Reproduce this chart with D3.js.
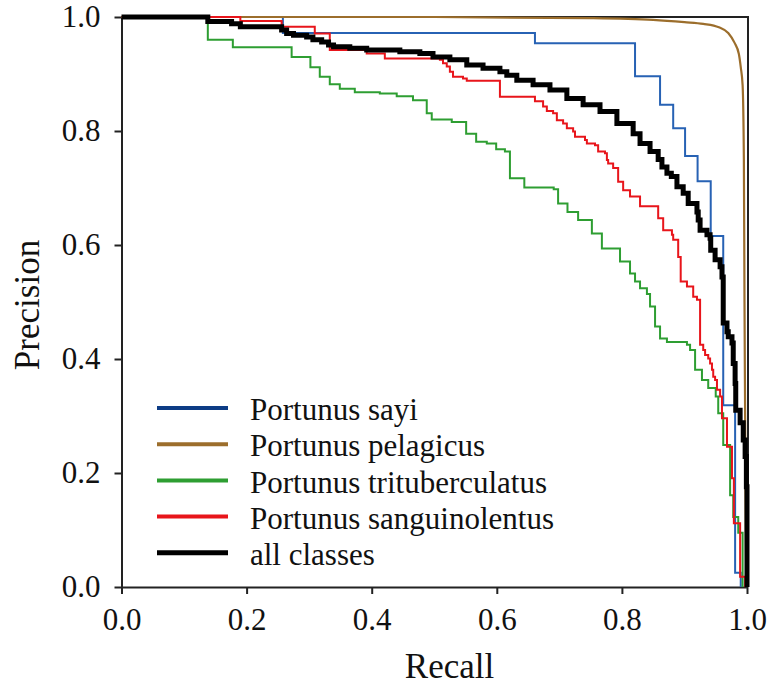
<!DOCTYPE html>
<html>
<head>
<meta charset="utf-8">
<script src="https://cdn.jsdelivr.net/npm/d3@7"></script>
<style>
  html, body { margin: 0; padding: 0; background: #fff; }
  svg { display: block; }
</style>
</head>
<body>
<svg id="chart" width="773" height="686"></svg>
<script>
// Precision–recall curves, [recall, precision] pairs.
const seriesNames = ["Portunus sayi", "Portunus pelagicus", "Portunus trituberculatus", "Portunus sanguinolentus", "all classes"];
const seriesColors = ["#2762b4", "#9c6e2c", "#2e9e32", "#e8151b", "#000000"];
const legendColors = ["#0d3c85", "#9c6e2c", "#2e9e32", "#e8151b", "#000000"];

const sayi = [
  [0, 1], [0.258, 0.972], [0.661, 0.954], [0.821, 0.896], [0.861, 0.846], [0.882, 0.805],
  [0.901, 0.756], [0.921, 0.712], [0.942, 0.616], [0.962, 0.319], [0.981, 0.025], [0.990, 0.0]
];

const pelagicus = [
  [0, 1], [0.5, 1], [0.75, 0.998], [0.85, 0.995], [0.9, 0.991], [0.93, 0.988], [0.955, 0.982],
  [0.97, 0.972], [0.98, 0.955], [0.987, 0.935], [0.99, 0.912], [0.993, 0.88], [0.995, 0.75],
  [0.996, 0.5], [0.997, 0.3], [0.998, 0.1], [0.999, 0.0]
];

const trituberculatus = [
  [0, 1], [0.138, 0.96], [0.178, 0.947], [0.272, 0.93], [0.302, 0.912], [0.317, 0.895],
  [0.333, 0.882], [0.349, 0.874], [0.373, 0.868], [0.413, 0.866], [0.44, 0.861], [0.466, 0.854],
  [0.488, 0.831], [0.496, 0.820], [0.528, 0.816], [0.551, 0.795], [0.567, 0.781], [0.584, 0.778],
  [0.599, 0.768], [0.613, 0.764], [0.621, 0.717], [0.644, 0.701], [0.691, 0.698], [0.698, 0.673],
  [0.713, 0.658], [0.730, 0.644], [0.752, 0.620], [0.768, 0.594], [0.797, 0.571], [0.813, 0.550],
  [0.821, 0.536], [0.829, 0.524], [0.840, 0.514], [0.845, 0.492], [0.853, 0.457], [0.861, 0.436],
  [0.872, 0.430], [0.904, 0.425], [0.909, 0.416], [0.917, 0.381], [0.928, 0.363], [0.938, 0.349],
  [0.950, 0.334], [0.954, 0.305], [0.962, 0.249], [0.973, 0.161], [0.978, 0.123], [0.986, 0.095],
  [0.993, 0.0]
];

const sanguinolentus = [
  [0, 1], [0.19, 0.993], [0.256, 0.983], [0.309, 0.971], [0.333, 0.942], [0.392, 0.936],
  [0.421, 0.927], [0.509, 0.925], [0.514, 0.919], [0.520, 0.913], [0.525, 0.904], [0.530, 0.895],
  [0.546, 0.892], [0.552, 0.888], [0.605, 0.860], [0.661, 0.852], [0.674, 0.843], [0.680, 0.835],
  [0.690, 0.831], [0.696, 0.819], [0.706, 0.813], [0.712, 0.805], [0.722, 0.799], [0.725, 0.790],
  [0.741, 0.784], [0.744, 0.778], [0.757, 0.775], [0.762, 0.764], [0.773, 0.761], [0.776, 0.749],
  [0.778, 0.743], [0.786, 0.735], [0.794, 0.711], [0.802, 0.696], [0.813, 0.685], [0.829, 0.668],
  [0.858, 0.647], [0.866, 0.626], [0.880, 0.618], [0.882, 0.609], [0.890, 0.579], [0.894, 0.536],
  [0.904, 0.527], [0.914, 0.509], [0.920, 0.504], [0.925, 0.425], [0.930, 0.416], [0.933, 0.407],
  [0.938, 0.401], [0.941, 0.392], [0.944, 0.381], [0.946, 0.369], [0.949, 0.363], [0.952, 0.346],
  [0.957, 0.334], [0.960, 0.296], [0.968, 0.246], [0.976, 0.191], [0.979, 0.112], [0.989, 0.018],
  [0.997, 0.0]
];

const allClasses = [
  [0, 1], [0.138, 0.992], [0.176, 0.988], [0.19, 0.983], [0.256, 0.977], [0.264, 0.971],
  [0.275, 0.968], [0.296, 0.965], [0.306, 0.960], [0.320, 0.956], [0.331, 0.951], [0.339, 0.948],
  [0.365, 0.945], [0.392, 0.942], [0.445, 0.939], [0.477, 0.936], [0.498, 0.930], [0.525, 0.925],
  [0.552, 0.916], [0.578, 0.910], [0.605, 0.904], [0.616, 0.898], [0.632, 0.889], [0.658, 0.881],
  [0.685, 0.872], [0.712, 0.857], [0.738, 0.846], [0.765, 0.834], [0.792, 0.813], [0.818, 0.795],
  [0.829, 0.778], [0.845, 0.764], [0.858, 0.750], [0.864, 0.737], [0.872, 0.726], [0.879, 0.720],
  [0.888, 0.702], [0.898, 0.691], [0.906, 0.673], [0.920, 0.658], [0.922, 0.644], [0.925, 0.626],
  [0.936, 0.618], [0.941, 0.612], [0.942, 0.591], [0.949, 0.574], [0.957, 0.562], [0.960, 0.544],
  [0.962, 0.463], [0.968, 0.448], [0.970, 0.439], [0.976, 0.428], [0.978, 0.392], [0.981, 0.357],
  [0.982, 0.310], [0.989, 0.288], [0.994, 0.258], [0.997, 0.229], [0.999, 0.176], [1.0, 0.0]
];

const seriesData = [sayi, pelagicus, trituberculatus, sanguinolentus, allClasses];
const seriesSteps = [true, false, true, true, true];
const seriesWidths = [2, 2.2, 2, 2, 5];
const xTicks = [0, 0.2, 0.4, 0.6, 0.8, 1.0];
const yTicks = [0, 0.2, 0.4, 0.6, 0.8, 1.0];

const FONT = "'Liberation Serif', 'Times New Roman', serif";
const svg = d3.select("#chart");

const x = d3.scaleLinear().domain([0, 1]).range([121.5, 747]);
const y = d3.scaleLinear().domain([0, 1]).range([587, 17]);

// Frame: top and right edges of the plot box
svg.append("path")
  .attr("d", `M${x(0)},${y(1)}H${x(1) + 1}V${y(0)}`)
  .attr("fill", "none")
  .attr("stroke", "#222")
  .attr("stroke-width", 2);

// Axes
const xAxis = svg.append("g")
  .attr("transform", `translate(0,${y(0)})`)
  .call(d3.axisBottom(x).tickValues(xTicks).tickFormat(d3.format(".1f"))
    .tickSize(7).tickSizeOuter(0).tickPadding(14));
const yAxis = svg.append("g")
  .attr("transform", `translate(${x(0)},0)`)
  .call(d3.axisLeft(y).tickValues(yTicks).tickFormat(d3.format(".1f"))
    .tickSize(7).tickSizeOuter(0).tickPadding(14));

[xAxis, yAxis].forEach(g => {
  g.select(".domain").attr("stroke", "#222").attr("stroke-width", 2);
  g.selectAll(".tick line").attr("stroke", "#222").attr("stroke-width", 2);
  g.selectAll(".tick text")
    .attr("fill", "#111")
    .style("font-family", FONT)
    .style("font-size", "31px");
});

// Curves
const stepLine = d3.line().x(d => x(d[0])).y(d => y(d[1])).curve(d3.curveStepAfter);
const smoothLine = d3.line().x(d => x(d[0])).y(d => y(d[1])).curve(d3.curveMonotoneX);

seriesData.forEach((data, i) => {
  svg.append("path")
    .datum(data)
    .attr("d", seriesSteps[i] ? stepLine : smoothLine)
    .attr("fill", "none")
    .attr("stroke", seriesColors[i])
    .attr("stroke-width", seriesWidths[i])
    .attr("stroke-linejoin", "miter");
});

// Axis titles
svg.append("text")
  .attr("x", 449.5).attr("y", 678)
  .attr("text-anchor", "middle")
  .attr("fill", "#111")
  .style("font-family", FONT).style("font-size", "35px")
  .text("Recall");

svg.append("text")
  .attr("transform", "translate(39,305) rotate(-90)")
  .attr("text-anchor", "middle")
  .attr("fill", "#111")
  .style("font-family", FONT).style("font-size", "35px")
  .text("Precision");

// Legend
const legend = svg.append("g");
seriesNames.forEach((name, i) => {
  const cy = 408 + i * 36.2;
  legend.append("line")
    .attr("x1", 157).attr("x2", 228)
    .attr("y1", cy).attr("y2", cy)
    .attr("stroke", legendColors[i])
    .attr("stroke-width", i === 4 ? 5 : 4);
  legend.append("text")
    .attr("x", 250).attr("y", cy + 2)
    .attr("dy", "0.33em")
    .attr("fill", "#111")
    .style("font-family", FONT).style("font-size", "31px")
    .text(name);
});
</script>
</body>
</html>
